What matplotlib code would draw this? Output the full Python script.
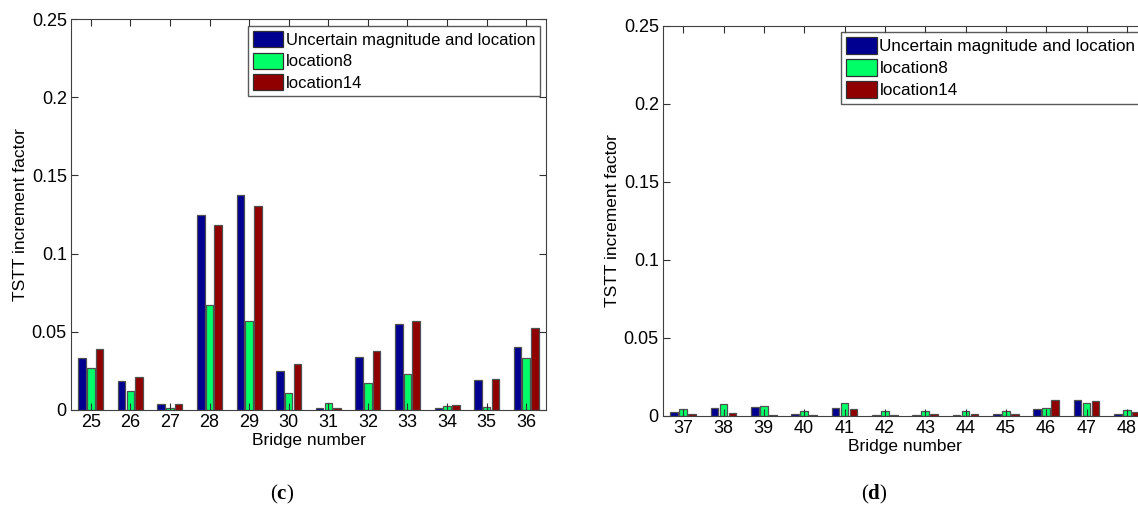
import matplotlib.pyplot as plt
import numpy as np
from matplotlib.patches import Patch

plt.rcParams['font.family'] = ['Liberation Sans', 'DejaVu Sans']
plt.rcParams['mathtext.fontset'] = 'custom'
plt.rcParams['mathtext.rm'] = 'Liberation Serif'
plt.rcParams['mathtext.bf'] = 'Liberation Serif:bold'

# panel (c)
bridges_c = list(range(25, 37))
uncertain_c = [0.0334, 0.0183, 0.0036, 0.1250, 0.1372, 0.0251, 0.0010, 0.0340, 0.0553, 0.0010, 0.0194, 0.0404]
loc8_c = [0.0266, 0.0119, 0.0010, 0.0674, 0.0568, 0.0110, 0.0043, 0.0172, 0.0230, 0.0026, 0.0021, 0.0330]
loc14_c = [0.0391, 0.0209, 0.0036, 0.1183, 0.1304, 0.0294, 0.0010, 0.0377, 0.0570, 0.0030, 0.0198, 0.0523]

# panel (d)
bridges_d = list(range(37, 49))
uncertain_d = [0.0028, 0.0053, 0.0058, 0.0013, 0.0053, 0.0006, 0.0006, 0.0006, 0.0010, 0.0043, 0.0100, 0.0013]
loc8_d = [0.0043, 0.0075, 0.0064, 0.0030, 0.0081, 0.0030, 0.0032, 0.0032, 0.0030, 0.0053, 0.0085, 0.0036]
loc14_d = [0.0013, 0.0017, 0.0006, 0.0006, 0.0043, 0.0006, 0.0010, 0.0010, 0.0010, 0.0100, 0.0096, 0.0026]

labels = ['Uncertain magnitude and location', 'location8', 'location14']
colors = ['#000090', '#00FF66', '#900000']
yticks = [0, 0.05, 0.1, 0.15, 0.2, 0.25]
ytick_labels = ['0', '0.05', '0.1', '0.15', '0.2', '0.25']


def draw_panel(ax, bridges, series):
    x = np.array(bridges)
    offsets = [-0.22, 0.0, 0.22]
    for vals, off, col in zip(series, offsets, colors):
        ax.bar(x + off, vals, width=0.19, color=col, edgecolor='#505050', linewidth=0.9)
    ax.set_xlim(bridges[0] - 0.5, bridges[-1] + 0.5)
    ax.set_ylim(0, 0.25)
    ax.set_xticks(bridges)
    ax.set_yticks(yticks)
    ax.set_yticklabels(ytick_labels)
    ax.tick_params(direction='in', top=True, right=True, length=5, labelsize=13,
                   color='#303030', pad=3)
    for sp in ax.spines.values():
        sp.set_color('#404040')
    ax.set_xlabel('Bridge number', fontsize=12.5, labelpad=1)
    ax.set_ylabel('TSTT increment factor', fontsize=12.5, labelpad=3)


fig = plt.figure(figsize=(11.38, 5.17), dpi=100)
ax_c = fig.add_axes([71 / 1138, 1 - 410 / 517, 475 / 1138, 391 / 517])
ax_d = fig.add_axes([663 / 1138, 1 - 416 / 517, 484 / 1138, 390 / 517])

draw_panel(ax_c, bridges_c, [uncertain_c, loc8_c, loc14_c])
draw_panel(ax_d, bridges_d, [uncertain_d, loc8_d, loc14_d])

handles = [Patch(facecolor=c, edgecolor='#303030', linewidth=0.9) for c in colors]
legend_specs = [(ax_c, (248 / 1138, 1 - 26 / 517), 12), (ax_d, (841 / 1138, 1 - 32 / 517), 12.3)]
for ax, anchor, fs in legend_specs:
    leg = ax.legend(handles, labels, loc='upper left', bbox_to_anchor=anchor,
                    bbox_transform=fig.transFigure, fontsize=fs, frameon=True, fancybox=False,
                    handlelength=1.8, handleheight=1.1, handletextpad=0.15,
                    labelspacing=0.3, borderpad=0.3, borderaxespad=0)
    leg.get_frame().set_edgecolor('#303030')
    leg.get_frame().set_linewidth(1.0)

fig.text(282 / 1138, 1 - 494 / 517, r'($\mathbf{c}$)', fontsize=15,
         family='Liberation Serif', ha='center', va='center')
fig.text(874 / 1138, 1 - 494 / 517, r'($\mathbf{d}$)', fontsize=15,
         family='Liberation Serif', ha='center', va='center')

fig.savefig('out.png', dpi=100)
